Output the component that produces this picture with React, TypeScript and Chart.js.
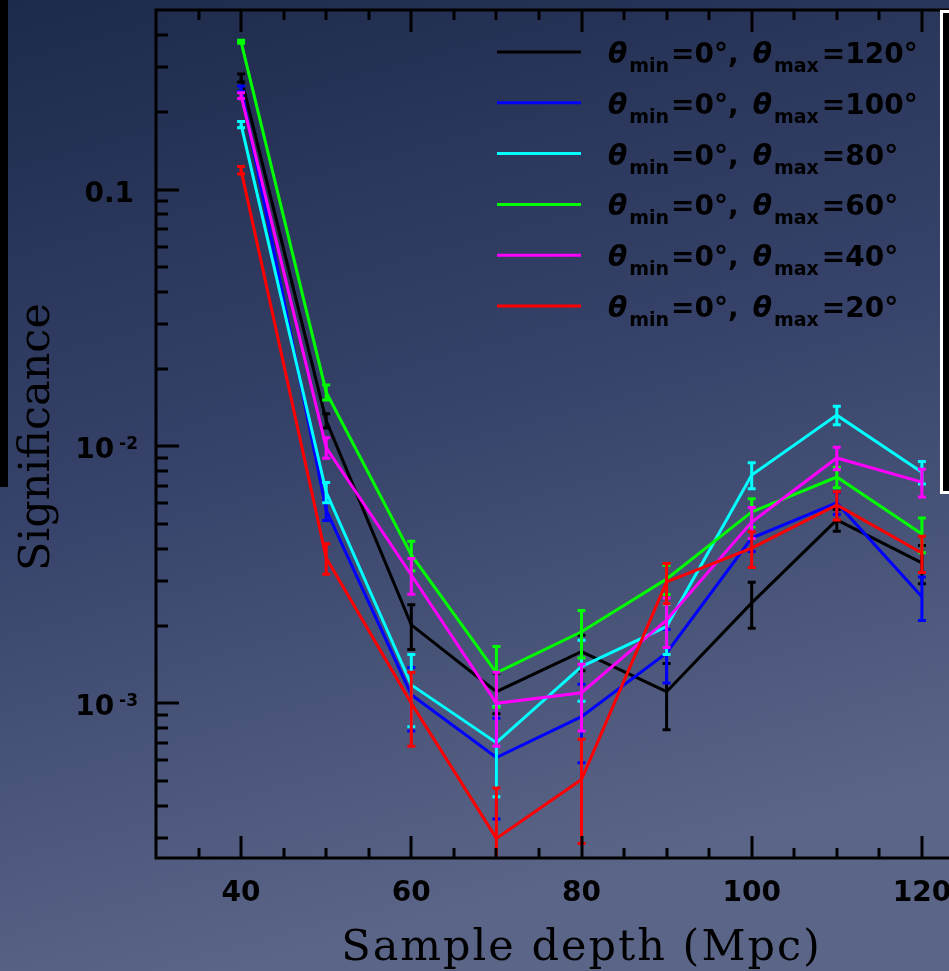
import React, { useEffect, useRef } from "react";
import { Chart, registerables } from "chart.js";
Chart.register(...registerables);

// ---- data ----
const depths = [40, 50, 60, 70, 80, 90, 100, 110, 120];
const thetaMaxLabels = ["120", "100", "80", "60", "40", "20"];
const seriesColors = ["#000000", "#0000ff", "#00ffff", "#00ff00", "#ff00ff", "#ff0000"];

const sig120 = [0.272, 0.0126, 0.00202, 0.00111, 0.00159, 0.00111, 0.00246, 0.00518, 0.00352];
const err120 = [0.01, 0.0008, 0.0004, 0.0002, 0.00025, 0.00032, 0.0005, 0.0005, 0.0006];
const sig100 = [0.247, 0.00565, 0.00108, 0.000615, 0.000887, 0.00157, 0.0044, 0.00603, 0.0026];
const err100 = [0.006, 0.0005, 0.0003, 0.00026, 0.0003, 0.00037, 0.0005, 0.0006, 0.0005];
const sig80 = [0.179, 0.00664, 0.00118, 0.000703, 0.00139, 0.00199, 0.00774, 0.01324, 0.00794];
const err80 = [0.005, 0.0006, 0.00037, 0.00027, 0.00037, 0.00044, 0.0009, 0.0011, 0.0008];
const sig60 = [0.376, 0.01626, 0.00378, 0.001315, 0.0019, 0.00305, 0.00556, 0.0076, 0.00456];
const err60 = [0.005, 0.0011, 0.0005, 0.00035, 0.0004, 0.0004, 0.0007, 0.0007, 0.0007];
const sig40 = [0.232, 0.0099, 0.00316, 0.001, 0.0011, 0.00211, 0.00508, 0.00902, 0.00726];
const err40 = [0.006, 0.0009, 0.0005, 0.00032, 0.00032, 0.00046, 0.0007, 0.0009, 0.0009];
const sig20 = [0.119, 0.00368, 0.001, 0.000298, 0.000505, 0.00297, 0.00402, 0.00592, 0.00385];
const err20 = [0.004, 0.0005, 0.00032, 0.00017, 0.00022, 0.00053, 0.00064, 0.00075, 0.00062];

const allSig = [sig120, sig100, sig80, sig60, sig40, sig20];
const allErr = [err120, err100, err80, err60, err40, err20];

const xTickLabels = [40, 60, 80, 100, 120];
const yTickValues = [0.1, 0.01, 0.001];
const yTickMantissa = ["0.1", "10", "10"];
const yTickExponent = ["", "-2", "-3"];

const X_MIN = 30;
const X_MAX = 130;
const Y_MIN = 2.5e-4;
const Y_MAX = 0.5;

const TICK_FONT = "bold 28px 'DejaVu Sans'";
const SUP_FONT = "bold 17px 'DejaVu Sans'";
const TITLE_FONT = "43px 'DejaVu Serif'";

const bgPlugin = {
  id: "bgPlugin",
  beforeDraw(chart: any) {
    const ctx = chart.ctx;
    const w = chart.width, h = chart.height;
    ctx.save();
    const g = ctx.createLinearGradient(0, 0, 260, h);
    g.addColorStop(0, "#1e2a4b");
    g.addColorStop(0.5, "#364269");
    g.addColorStop(1, "#5b6588");
    ctx.fillStyle = g;
    ctx.fillRect(0, 0, w, h);
    ctx.fillStyle = "#000";
    ctx.fillRect(0, 0, 8, 487);
    ctx.restore();
  },
};

const errPlugin = {
  id: "errPlugin",
  afterDatasetDraw(chart: any, args: any) {
    const ds = chart.data.datasets[args.index];
    const errs: number[] = ds.errors;
    if (!errs) return;
    const xs = chart.scales.x, ys = chart.scales.y;
    const ca = chart.chartArea;
    const ctx = chart.ctx;
    ctx.save();
    ctx.beginPath();
    ctx.rect(ca.left, ca.top, ca.right - ca.left, ca.bottom - ca.top);
    ctx.clip();
    ctx.strokeStyle = ds.borderColor;
    ctx.lineWidth = 3;
    ds.data.forEach((p: any, i: number) => {
      const px = xs.getPixelForValue(p.x);
      const hi = p.y + errs[i];
      const lo = p.y - errs[i];
      const yTop = ys.getPixelForValue(hi);
      const yBot = lo > 0 ? ys.getPixelForValue(lo) : ca.bottom + 10;
      ctx.beginPath();
      ctx.moveTo(px, yTop);
      ctx.lineTo(px, yBot);
      ctx.moveTo(px - 4, yTop);
      ctx.lineTo(px + 4, yTop);
      ctx.moveTo(px - 4, yBot);
      ctx.lineTo(px + 4, yBot);
      ctx.stroke();
    });
    ctx.restore();
  },
};

const axesPlugin = {
  id: "axesPlugin",
  afterDraw(chart: any) {
    const ctx = chart.ctx;
    const ca = chart.chartArea;
    const xs = chart.scales.x, ys = chart.scales.y;
    ctx.save();
    ctx.strokeStyle = "#000";
    ctx.fillStyle = "#000";
    ctx.lineWidth = 3;
    ctx.strokeRect(ca.left, ca.top, ca.right - ca.left, ca.bottom - ca.top);

    // x ticks (bottom and top)
    ctx.beginPath();
    for (let v = X_MIN + 5; v < X_MAX; v += 5) {
      const px = Math.round(xs.getPixelForValue(v));
      const len = v % 20 === 0 ? 22 : 10;
      ctx.moveTo(px, ca.bottom);
      ctx.lineTo(px, ca.bottom - len);
      ctx.moveTo(px, ca.top);
      ctx.lineTo(px, ca.top + len);
    }
    // y ticks (left)
    for (let d = -4; d <= 0; d++) {
      for (let m = 1; m <= 9; m++) {
        const v = m * Math.pow(10, d);
        if (v <= Y_MIN * 1.0001 || v >= Y_MAX * 0.9999) continue;
        const py = Math.round(ys.getPixelForValue(v));
        const len = m === 1 ? 23 : 12;
        ctx.moveTo(ca.left, py);
        ctx.lineTo(ca.left + len, py);
      }
    }
    ctx.stroke();

    // x tick labels
    ctx.font = TICK_FONT;
    ctx.textAlign = "center";
    ctx.textBaseline = "alphabetic";
    xTickLabels.forEach((v) => {
      const px = xs.getPixelForValue(v);
      ctx.fillText(String(v), px, ca.bottom + 43);
    });

    // y tick labels
    yTickValues.forEach((v, i) => {
      const py = ys.getPixelForValue(v);
      const base = py + 12;
      const exp = yTickExponent[i];
      ctx.textAlign = "right";
      if (exp) {
        ctx.font = SUP_FONT;
        const ew = ctx.measureText(exp).width;
        ctx.fillText(exp, 138, base - 9);
        ctx.font = TICK_FONT;
        ctx.fillText(yTickMantissa[i], 138 - ew - 5, base);
      } else {
        ctx.font = TICK_FONT;
        ctx.fillText(yTickMantissa[i], 134, base);
      }
    });

    // axis titles
    ctx.font = TITLE_FONT;
    ctx.textAlign = "center";
    (ctx as any).letterSpacing = "2px";
    ctx.fillText("Sample depth (Mpc)", (ca.left + ca.right) / 2, 960);
    (ctx as any).letterSpacing = "0px";
    ctx.save();
    ctx.translate(49, (ca.top + ca.bottom) / 2 + 3);
    ctx.rotate(-Math.PI / 2);
    ctx.fillText("Significance", 0, 0);
    ctx.restore();

    // legend
    const legendY0 = 52;
    const legendDy = 50.8;
    chart.data.datasets.forEach((ds: any, i: number) => {
      const y = legendY0 + i * legendDy;
      ctx.strokeStyle = ds.borderColor;
      ctx.lineWidth = 3;
      ctx.beginPath();
      ctx.moveTo(497, y);
      ctx.lineTo(581, y);
      ctx.stroke();
      const base = y + 11;
      const sub = base + 9;
      let x = 608;
      ctx.textAlign = "left";
      ctx.fillStyle = "#000";
      const put = (t: string, font: string, yy: number) => {
        ctx.font = font;
        ctx.fillText(t, x, yy);
        x += ctx.measureText(t).width;
      };
      put("θ", "italic bold 28px 'DejaVu Sans'", base);
      x += 2;
      put("min", "bold 19px 'DejaVu Sans'", sub);
      x += 2;
      put("=0°,", TICK_FONT, base);
      x += 14;
      put("θ", "italic bold 28px 'DejaVu Sans'", base);
      x += 2;
      put("max", "bold 19px 'DejaVu Sans'", sub);
      x += 3;
      put("=" + ds.thetaMax + "°", TICK_FONT, base);
    });

    // overlapping box on the right
    ctx.fillStyle = "#000";
    ctx.fillRect(941, 11, 30, 483);
    ctx.strokeStyle = "#ffffff";
    ctx.lineWidth = 3;
    ctx.strokeRect(941.5, 11.5, 40, 481);
    ctx.restore();
  },
};

export default function App() {
  const ref = useRef<HTMLCanvasElement | null>(null);
  useEffect(() => {
    document.body.style.margin = "0";
    const canvas = ref.current;
    if (!canvas) return;
    const datasets = allSig.map((s, i) => ({
      label: "θmax=" + thetaMaxLabels[i] + "°",
      thetaMax: thetaMaxLabels[i],
      data: depths.map((d, j) => ({ x: d, y: s[j] })),
      errors: allErr[i],
      borderColor: seriesColors[i],
      backgroundColor: seriesColors[i],
      borderWidth: 3,
      pointRadius: 0,
      tension: 0,
      fill: false,
      order: 5 - i,
    }));
    const chart = new Chart(canvas, {
      type: "line",
      data: { datasets: datasets as any },
      options: {
        responsive: false,
        animation: false,
        devicePixelRatio: 1,
        layout: { padding: { left: 156, right: 53, top: 10, bottom: 113 } },
        scales: {
          x: { type: "linear", min: X_MIN, max: X_MAX, display: false },
          y: { type: "logarithmic", min: Y_MIN, max: Y_MAX, display: false },
        },
        plugins: { legend: { display: false }, tooltip: { enabled: false } },
      },
      plugins: [bgPlugin, errPlugin, axesPlugin],
    });
    return () => chart.destroy();
  }, []);
  return (
    <div style={{ width: 949, height: 971, overflow: "hidden", position: "relative" }}>
      <canvas ref={ref} width={1060} height={971} style={{ display: "block" }} />
    </div>
  );
}
